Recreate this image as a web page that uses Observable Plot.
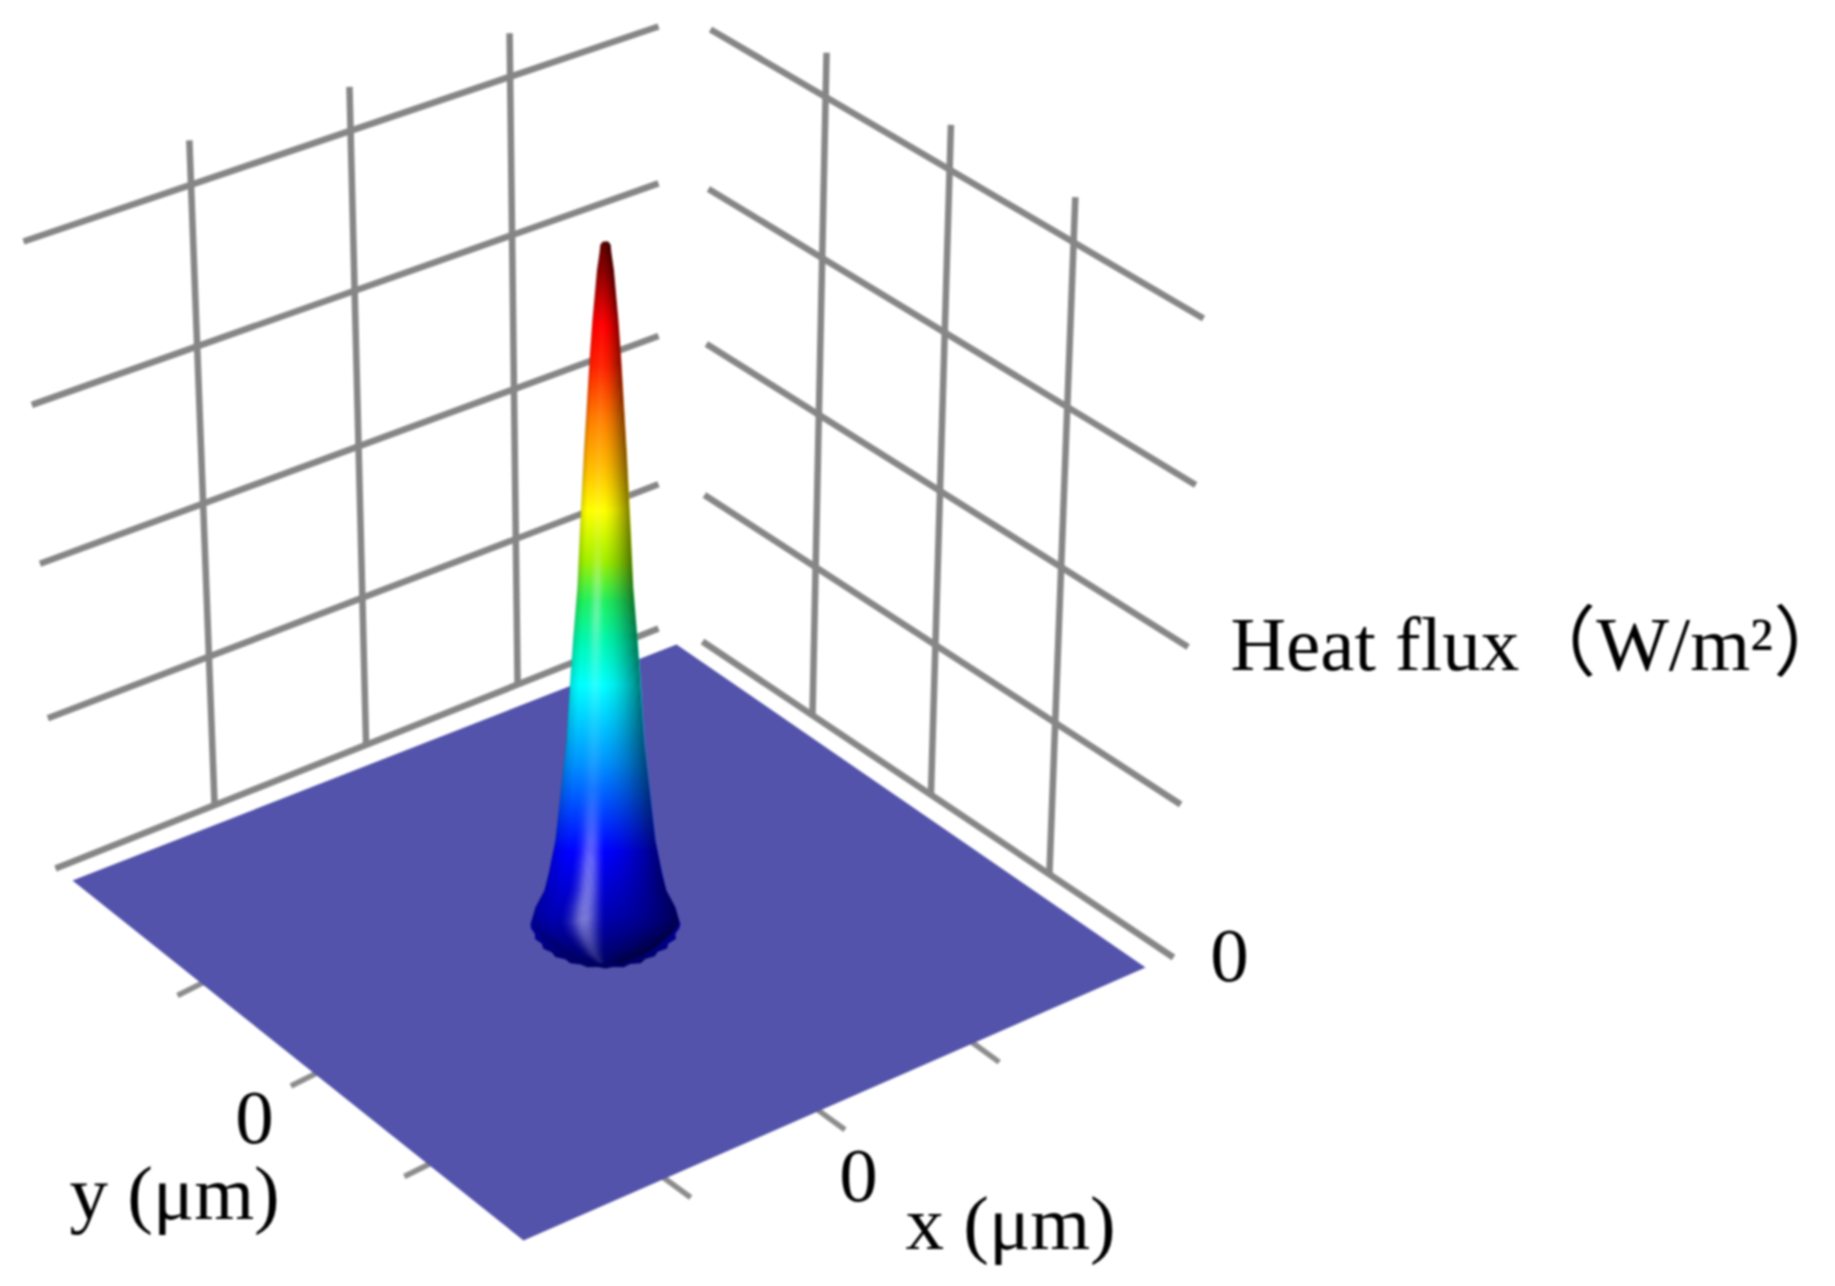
<!DOCTYPE html>
<html>
<head>
<meta charset="utf-8">
<script src="https://cdn.jsdelivr.net/npm/d3@7"></script>
<script src="https://cdn.jsdelivr.net/npm/@observablehq/plot@0.6"></script>
<style>
  html, body { margin: 0; padding: 0; background: #fff; }
  svg { display: block; filter: blur(0.9px); }
  [aria-label="heat flux label"] text { letter-spacing: 1.8px; }
</style>
</head>
<body>
<div id="chart"></div>
<script>
// ---- chart values ----
const xTicks = [-1, 0, 1];
const yTicks = [-1, 0, 1];
const zLevels = [0, 1, 2, 3, 4];
const zTop = 4.27;

// heat-flux peak: height above the base rim, and half width (both relative)
const peakHeight = [1, 0.9956, 0.9824, 0.9575, 0.9326, 0.8842, 0.8328, 0.7859, 0.6891, 0.5909, 0.4927, 0.415, 0.3666, 0.2683, 0.1217, 0.0733, 0.0484, 0.0235, 0];
const peakRadius = [0.033, 0.067, 0.08, 0.113, 0.133, 0.173, 0.207, 0.233, 0.287, 0.333, 0.373, 0.431, 0.463, 0.52, 0.667, 0.756, 0.813, 0.933, 0.995];
// below the rim centre, inside the front of the base
const baseDepth = [0.0147, 0.0323, 0.0469, 0.0587];
const baseRadius = [0.907, 0.72, 0.507, 0.2];

// scalloped rim of the base, going under the peak from right to left
const rimAngle = [0, 6, 14, 20, 28, 34, 42, 48, 56, 62, 70, 76, 84, 90, 96, 104, 110, 118, 124, 132, 138, 146, 152, 160, 166, 174, 180];
const rimRho = [1, 0.99, 0.96, 1, 0.95, 0.99, 0.94, 0.98, 0.95, 1, 0.96, 1, 0.97, 1, 0.97, 1, 0.97, 1, 0.96, 1, 0.96, 1, 0.96, 1, 0.97, 1, 1];

// jet colour ramp along the peak (offset from tip to base)
const jetOffset = [0, 0.04, 0.075, 0.115, 0.17, 0.246, 0.315, 0.37, 0.44, 0.495, 0.55, 0.61, 0.72, 0.84, 0.93, 1];
const jetColor = ["#5a0000", "#8a0000", "#c00000", "#ff0000", "#ff2000", "#ff8000", "#ffc000", "#ffff00", "#a0f000", "#20f060", "#00f8b0", "#00ffff", "#0090ff", "#0000ff", "#0000b0", "#00005a"];

// shading across the peak
const shadeEdges = [-1, -0.94, -0.875, -0.81, -0.75, 0, 0.0625, 0.125, 0.1875, 0.25, 0.3125, 0.375, 0.4375, 0.5, 0.5625, 0.625, 0.6875, 0.75, 0.8125, 0.875, 0.9375, 1];
const shadeAlpha = [0.15, 0.1, 0.06, 0.03, 0, 0.01, 0.03, 0.05, 0.07, 0.09, 0.12, 0.15, 0.18, 0.21, 0.25, 0.29, 0.33, 0.37, 0.42, 0.47, 0.52];
const streakEdges = [-0.58, -0.54, -0.5, -0.46, -0.42, -0.38, -0.34, -0.3, -0.26, -0.22, -0.18, -0.14, -0.1, -0.06, -0.02];
const streakAlpha = [0.06, 0.14, 0.26, 0.42, 0.62, 0.82, 0.96, 1, 0.96, 0.82, 0.62, 0.42, 0.22, 0.08];
const streakOffset = [0, 0.42, 0.47, 0.52, 0.58, 0.66, 0.76, 0.8, 0.86, 0.94, 1];
const streakOpacity = [0, 0.1, 0.3, 0.34, 0.2, 0.1, 0.1, 0.22, 0.42, 0.48, 0.1];

const fluxLabel = "Heat flux（W/m²）";
const tickLabel = "0";
const xLabel = "x (μm)";
const yLabel = "y (μm)";

// ---- view calibration (how the 3-D box lies in the picture) ----
const view = {
  leftWall:  { z0: [[55, 868], [658, 628]], zMax: [[23, 241], [658, 26]] },
  rightWall: { z0: [[702, 641], [1173, 957]], zMax: [[710, 29], [1203, 318]] },
  floor: { back: [676, 644], left: [72, 880], right: [1145, 967], front: [523, 1240] },
  peak: { x: 605, base: 923, height: 682, radius: 75, minor: 45 },
  text: { flux: [1230, 669], zero: [1229, 980], yZero: [254, 1142], xZero: [858, 1200], y: [69, 1218], x: [905, 1248] }
};
const mix = (a, b, t) => [a[0] + (b[0] - a[0]) * t, a[1] + (b[1] - a[1]) * t];
const zFrac = z => 0.236 * z + 0.0035 * z * z;
const wall = (w, t, z) => mix(mix(w.z0[0], w.z0[1], t), mix(w.zMax[0], w.zMax[1], t), zFrac(z));
const leftT = x => (x + 2.05) / 3.98;
const rightT = y => 0.485 - 0.2515 * y;

const seg = (a, b) => ({ x1: a[0], y1: a[1], x2: b[0], y2: b[1] });
const gridLinks = [
  ...zLevels.map(z => seg(wall(view.leftWall, 0, z), wall(view.leftWall, 1, z))),
  ...zLevels.map(z => seg(wall(view.rightWall, 0, z), wall(view.rightWall, 1, z))),
  ...xTicks.map(x => seg(wall(view.leftWall, leftT(x), 0), wall(view.leftWall, leftT(x), zTop))),
  ...yTicks.map(y => seg(wall(view.rightWall, rightT(y), 0), wall(view.rightWall, rightT(y), zTop)))
];

const f = view.floor;
const floorPoly = [f.back, f.right, f.front, f.left].map(p => ({ px: p[0], py: p[1] }));
const tickFrom = (p, v) => seg([p[0] - v[0] * 0.3, p[1] - v[1] * 0.3], [p[0] + v[0], p[1] + v[1]]);
const tickLinks = [
  ...xTicks.map(x => tickFrom(mix(f.front, f.right, 0.475 + 0.248 * x), [26, 19])),
  ...yTicks.map(y => tickFrom(mix(f.left, f.front, 0.5375 - 0.2515 * y), [-24, 12]))
];

const P = view.peak;
const sideRows = [
  ...peakHeight.map((h, i) => ({ py: P.base - h * P.height, hw: peakRadius[i] * P.radius })),
  ...baseDepth.map((h, i) => ({ py: P.base + h * P.height, hw: baseRadius[i] * P.radius }))
];
const peakSide = sign => peakHeight.map((h, i) => ({ px: P.x + sign * peakRadius[i] * P.radius, py: P.base - h * P.height }));
const outline = [
  ...peakSide(-1).reverse(),
  ...peakSide(1),
  ...rimAngle.map((a, i) => ({
    px: P.x + P.radius * rimRho[i] * Math.cos(a * Math.PI / 180),
    py: P.base + P.minor * rimRho[i] * Math.sin(a * Math.PI / 180)
  }))
];

const T = view.text;
const startLabels = [
  { t: yLabel, p: T.y },
  { t: xLabel, p: T.x }
];
const middleLabels = [
  { t: tickLabel, p: T.zero },
  { t: tickLabel, p: T.yZero },
  { t: tickLabel, p: T.xZero }
];
const textOptions = {
  x: d => d.p[0], y: d => d.p[1], text: "t", lineAnchor: "bottom",
  fontFamily: "'Liberation Serif', 'Noto Sans CJK SC', serif", fontSize: 77, fill: "#000"
};

const gradients = () => {
  const defs = d3.create("svg:defs");
  const add = (id, offs, color, opacity) => {
    const g = defs.append("linearGradient").attr("id", id)
      .attr("x1", 0).attr("y1", 0).attr("x2", 0).attr("y2", 1);
    offs.forEach((o, i) => g.append("stop").attr("offset", o)
      .attr("stop-color", color[i])
      .attr("stop-opacity", opacity ? opacity[i] : 1));
  };
  add("jet", jetOffset, jetColor);
  add("streak", streakOffset, streakOffset.map(() => "#ffffff"), streakOpacity);
  return defs.node();
};

const ribbon = (u0, u1, fill, fillOpacity) => Plot.area(sideRows, {
  x1: d => P.x + u0 * d.hw,
  x2: d => P.x + u1 * d.hw,
  y1: "py",
  y2: "py",
  fill,
  fillOpacity
});

const chart = Plot.plot({
  width: 1835,
  height: 1286,
  margin: 0,
  style: { background: "#fff" },
  x: { domain: [0, 1835], axis: null },
  y: { domain: [1286, 0], axis: null },
  marks: [
    gradients,
    Plot.link(gridLinks, { x1: "x1", y1: "y1", x2: "x2", y2: "y2", stroke: "#868686", strokeWidth: 6.5 }),
    Plot.link(tickLinks, { x1: "x1", y1: "y1", x2: "x2", y2: "y2", stroke: "#8c8c8c", strokeWidth: 5.5 }),
    Plot.line(floorPoly, { x: "px", y: "py", fill: "#5353ab", stroke: "none" }),
    Plot.line(outline, { x: "px", y: "py", fill: "url(#jet)", stroke: "none" }),
    ...shadeAlpha.map((a, i) => ({ a, i })).filter(d => d.a > 0)
      .map(d => ribbon(shadeEdges[d.i], shadeEdges[d.i + 1], "#000", d.a)),
    ...streakAlpha.map((a, i) => ribbon(streakEdges[i], streakEdges[i + 1], "url(#streak)", a)),
    Plot.text(startLabels, { ...textOptions, textAnchor: "start" }),
    Plot.text(middleLabels, { ...textOptions, textAnchor: "middle" }),
    Plot.text([{ t: fluxLabel, p: T.flux }], { ...textOptions, textAnchor: "start", ariaLabel: "heat flux label" })
  ]
});
document.getElementById("chart").appendChild(chart);
</script>
</body>
</html>
